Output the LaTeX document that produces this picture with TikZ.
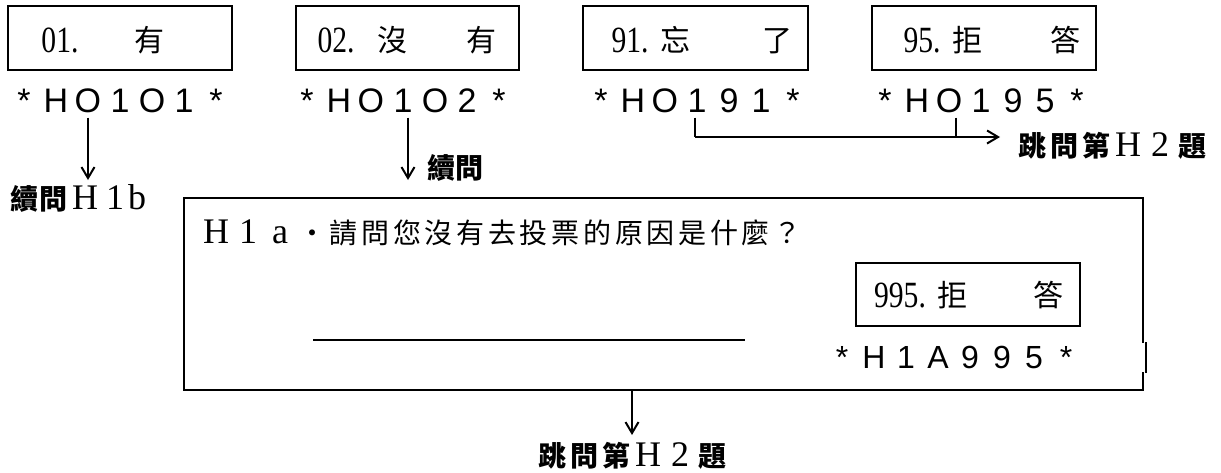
\documentclass[tikz,border=0pt]{standalone}
\usepackage{fontspec}
\usepackage{graphicx}
\setmainfont{Liberation Serif}
\newfontfamily\cjk{Noto Sans CJK TC}
\newfontfamily\bcf{Liberation Sans}
\usetikzlibrary{arrows.meta,calc}
\newlength\cellw
\def\mycells#1{\ifx#1\relax\else\makebox[\cellw]{#1}\expandafter\mycells\fi}
\newcommand\serifch[2]{\makebox[#1]{\rmfamily\mdseries\fontsize{36pt}{36pt}\selectfont #2}}
\tikzset{
  boxln/.style={draw=black, line width=1.2pt, inner sep=0pt},
  arr/.style={-{Straight Barb[length=11pt,width=13pt,line width=2pt]}, line width=1.6pt},
  ln/.style={line width=1.6pt},
  dig/.style={font=\fontsize{37pt}{37pt}\selectfont, inner sep=0pt, anchor=base},
  cj/.style={font=\cjk\fontsize{30pt}{30pt}\selectfont, inner sep=0pt, anchor=base},
  bc/.style={font=\bcf\fontsize{34pt}{34pt}\selectfont\setlength\cellw{32pt}, inner sep=0pt, anchor=base},
  bcbig/.style={font=\bcf\fontsize{32pt}{32pt}\selectfont\setlength\cellw{32pt}, inner sep=0pt, anchor=base},
  lbl/.style={font=\cjk\bfseries\fontsize{28pt}{28pt}\selectfont, inner sep=0pt, anchor=base west},
}
\begin{document}
\begin{tikzpicture}[x=1pt,y=-1pt]
\useasboundingbox[fill=white] (0,0) rectangle (1221,472);
% top answer boxes
\node[boxln, minimum width=224pt, minimum height=64pt] (b1) at (120,38) {};
\node[boxln, minimum width=223pt, minimum height=64pt] (b2) at (407.5,38) {};
\node[boxln, minimum width=225pt, minimum height=64pt] (b3) at (695.5,38) {};
\node[boxln, minimum width=224pt, minimum height=64pt] (b4) at (984,38) {};
\node[dig] (t1d) at (60,52) {\scalebox{0.8}[1]{01.}};
\node[cj]  (t1c) at (149,51) {有};
\node[dig] (t2d) at (336,52) {\scalebox{0.8}[1]{02.}};
\node[cj]  (t2c) at (392,51) {沒};
\node[cj]  (t2e) at (481,51) {有};
\node[dig] (t3d) at (630,52) {\scalebox{0.8}[1]{91.}};
\node[cj]  (t3c) at (675,51) {忘};
\node[cj]  (t3e) at (777,51) {了};
\node[dig] (t4d) at (922,52) {\scalebox{0.8}[1]{95.}};
\node[cj]  (t4c) at (967,51) {拒};
\node[cj]  (t4e) at (1065,51) {答};
% codes
\node[bc] (l1) at (120,112) {\mycells *HO1O1*\relax};
\node[bc] (l2) at (403,112) {\mycells *HO1O2*\relax};
\node[bc] (l3) at (697,112) {\mycells *HO191*\relax};
\node[bc] (l4) at (981,112) {\mycells *HO195*\relax};
% labels
\node[lbl] (lab1) at (10,209) {\makebox[29pt]{續}\makebox[29pt]{問}\serifch{34pt}{H}\serifch{26pt}{1}\serifch{18pt}{b}};
\node[lbl] (lab2) at (427,178) {續問};
\node[lbl] (lab3) at (1016,156) {\makebox[32pt]{跳}\makebox[32pt]{問}\makebox[32pt]{第}\serifch{32pt}{H}\serifch{32pt}{2}\makebox[32pt]{題}};
\node[lbl] (lab5) at (536,466) {\makebox[32pt]{跳}\makebox[32pt]{問}\makebox[32pt]{第}\serifch{32pt}{H}\serifch{32pt}{2}\makebox[32pt]{題}};
% big question box
\node[boxln, minimum width=959pt, minimum height=192pt] (big) at (663.5,294) {};
\draw[white, line width=2.2pt] (1143,343) -- (1143,372);
\draw[line width=1.2pt] (1146,342) -- (1146,373);
\node[font=\cjk\fontsize{28pt}{28pt}\selectfont, inner sep=0pt, anchor=base west] (q) at (200,243)
  {\serifch{32pt}{H}\serifch{32pt}{1}\serifch{32pt}{a}\setlength\cellw{31.7pt}\mycells ・請問您沒有去投票的原因是什麼？\relax};
\draw[line width=1.6pt] (313,340) -- (745,340);
\node[boxln, minimum width=224pt, minimum height=63pt] (ib) at (968,294.5) {};
\node[dig] (i1) at (900,307) {\scalebox{0.8}[1]{995.}};
\node[cj]  (i2) at (952,306) {拒};
\node[cj]  (i3) at (1048,306) {答};
\node[bcbig] (l5) at (954,368) {\mycells *H1A995*\relax};
% connectors
\coordinate (a1) at (88,180);
\coordinate (a2) at (408,180);
\coordinate (j1) at (695,137);
\coordinate (j2) at (956,137);
\coordinate (j3) at (1000,137);
\coordinate (a5) at (632,435);
\draw[arr, shorten <=5pt] (l1.south -| a1) -- (a1);
\draw[arr, shorten <=5pt] (l2.south -| a2) -- (a2);
\draw[ln, shorten <=5pt] (l3.south -| j1) -- (j1);
\draw[arr] (j1) -- (j3);
\draw[ln, shorten <=5pt] (l4.south -| j2) -- (j2);
\draw[arr] (big.south -| a5) -- (a5);
\end{tikzpicture}
\end{document}
